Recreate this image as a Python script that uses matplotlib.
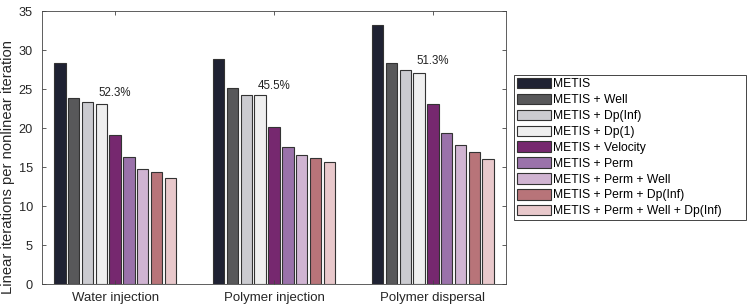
import matplotlib
matplotlib.use("Agg")
import matplotlib.pyplot as plt
import numpy as np

plt.rcParams['font.family'] = ['Liberation Sans', 'DejaVu Sans']

groups = ["Water injection", "Polymer injection", "Polymer dispersal"]
series = ["METIS", "METIS + Well", "METIS + Dp(Inf)", "METIS + Dp(1)", "METIS + Velocity",
          "METIS + Perm", "METIS + Perm + Well", "METIS + Perm + Dp(Inf)",
          "METIS + Perm + Well + Dp(Inf)"]
values = {
    "Water injection":   [28.4, 23.8, 23.35, 23.1, 19.1, 16.3, 14.8, 14.4, 13.6],
    "Polymer injection": [28.9, 25.2, 24.2, 24.3, 20.1, 17.6, 16.5, 16.2, 15.7],
    "Polymer dispersal": [33.2, 28.4, 27.4, 27.1, 23.1, 19.4, 17.9, 16.9, 16.1],
}
annotations = ["52.3%", "45.5%", "51.3%"]
colors = ["#1f2233", "#58585a", "#cbcbd0", "#efefef", "#76286f",
          "#9a72aa", "#d0b4d2", "#b87479", "#e8c8cb"]
yticks = [0, 5, 10, 15, 20, 25, 30, 35]

fig = plt.figure(figsize=(7.47, 3.06), dpi=100)
ax = fig.add_axes([42/747, 1-284.3/306, (506-42)/747, (284.3-11)/306])

x = np.arange(1, len(groups)+1)
step = 0.087
width = 0.072
n = len(series)
for i, s in enumerate(series):
    vals = [values[g][i] for g in groups]
    ax.bar(x + (i - (n-1)/2)*step, vals, width=width, color=colors[i],
           edgecolor="#333333", linewidth=0.8, label=s)

for j, g in enumerate(groups):
    ytxt = max(values[g][2], values[g][3]) + 1.15
    ax.text(x[j], ytxt, annotations[j], ha="center", va="center", fontsize=8.3, color="#222222")

ax.set_xlim(0.54, 3.46)
ax.set_ylim(0, 35)
ax.set_xticks(x)
ax.set_xticklabels(groups, fontsize=9.5)
ax.set_yticks(yticks)
ax.tick_params(axis='both', direction='in', top=True, right=True, labelsize=9.2, length=3,
               color="#444444", width=0.6, labelcolor="#262626")
ax.tick_params(axis='x', pad=5.5, labelsize=9.5)
ax.tick_params(axis='y', pad=6.5)
for sp in ax.spines.values():
    sp.set_color("#444444")
    sp.set_linewidth(0.6)
ax.set_ylabel("Linear iterations per nonlinear iteration", fontsize=10.6, color="#262626")
ax.yaxis.set_label_coords((15-42)/464, (284.3-167.5)/273.3)

leg_x0, leg_y1, leg_x1, leg_y0 = 514/747, 1-75/306, 746/747, 1-222/306
leg = fig.legend(loc="upper left",
                 bbox_to_anchor=(leg_x0, leg_y0, leg_x1-leg_x0, leg_y1-leg_y0),
                 bbox_transform=fig.transFigure, mode="expand",
                 borderaxespad=0, fontsize=8.7, fancybox=False, edgecolor="#444444",
                 handlelength=2.8, handleheight=0.95, handletextpad=0.15, labelspacing=0.29,
                 borderpad=0.25, framealpha=1)
leg.get_frame().set_linewidth(0.7)

fig.savefig("out.png", dpi=100)
